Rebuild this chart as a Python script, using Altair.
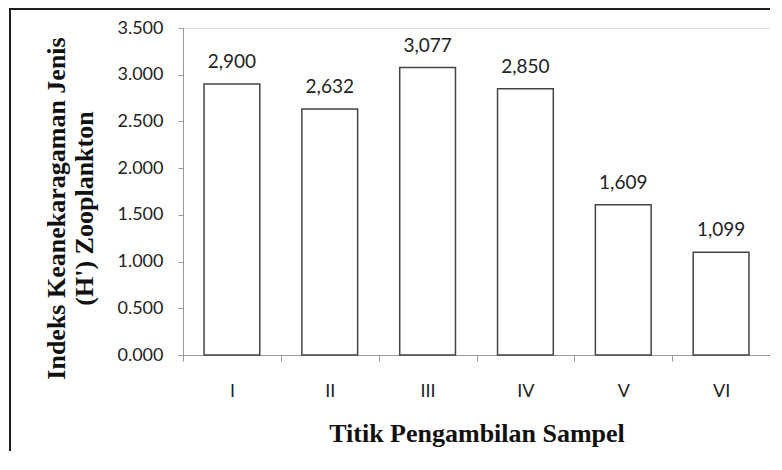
import altair as alt
import pandas as pd

categories = ["I", "II", "III", "IV", "V", "VI"]
values = [2.900, 2.632, 3.077, 2.850, 1.609, 1.099]
y_ticks = [0, 0.5, 1.0, 1.5, 2.0, 2.5, 3.0, 3.5]

df = pd.DataFrame({"titik": categories, "h": values})

x_enc = alt.X(
    "titik:N",
    sort=categories,
    scale=alt.Scale(paddingInner=0, paddingOuter=0),
    axis=alt.Axis(
        title="Titik Pengambilan Sampel",
        labelAngle=0,
        tickBand="extent",
        tickSize=6,
        labelPadding=21,
        titlePadding=20,
        labelFont="Lato",
        labelFontSize=18,
        labelColor="#222222",
        titleFont="Liberation Serif",
        titleFontSize=26,
        titleFontWeight="bold",
        titleColor="#111111",
        domainColor="#9a9a9a",
        tickColor="#9a9a9a",
        grid=False,
    ),
)

y_enc = alt.Y(
    "h:Q",
    scale=alt.Scale(domain=[0, 3.5], nice=False),
    axis=alt.Axis(
        title=["Indeks Keanekaragaman Jenis", "(H') Zooplankton"],
        values=y_ticks,
        format=".3f",
        tickSize=5,
        labelPadding=15,
        labelFont="Lato",
        labelFontSize=18,
        labelColor="#222222",
        titleFont="Liberation Serif",
        titleFontSize=26,
        titleFontWeight="bold",
        titleColor="#111111",
        titleLineHeight=28,
        titlePadding=19,
        titleY=180,
        domainColor="#9a9a9a",
        tickColor="#9a9a9a",
        grid=False,
    ),
)

bars = alt.Chart(df).mark_bar(
    fill="white", stroke="#444444", strokeWidth=1.5,
    width=alt.RelativeBandSize(0.57),
).encode(x=x_enc, y=y_enc)

labels = alt.Chart(df).transform_calculate(
    lab="replace(format(datum.h, '.3f'), '.', ',')"
).mark_text(
    baseline="bottom", dy=-12, font="Lato", fontSize=19, color="#222222"
).encode(
    x=alt.X("titik:N", sort=categories),
    y=alt.Y("h:Q"),
    text="lab:N",
)

frame_df = pd.DataFrame({"k": [0]})
frame_left = alt.Chart(frame_df).mark_rule(color="#1e1e1e", strokeWidth=2).encode(
    x=alt.value(-173), y=alt.value(-19), y2=alt.value(430),
)
frame_top = alt.Chart(frame_df).mark_rule(color="#1e1e1e", strokeWidth=2).encode(
    x=alt.value(-174), x2=alt.value(590), y=alt.value(-19),
)

chart = alt.layer(frame_left, frame_top, bars, labels).properties(
    width=587, height=327,
    autosize=alt.AutoSizeParams(type="none"),
    padding={"left": 175, "top": 20, "right": 0, "bottom": 96},
).configure_view(stroke=None).configure(background="white")

chart.save("out.html", embed_options={"renderer": "svg", "actions": False})
